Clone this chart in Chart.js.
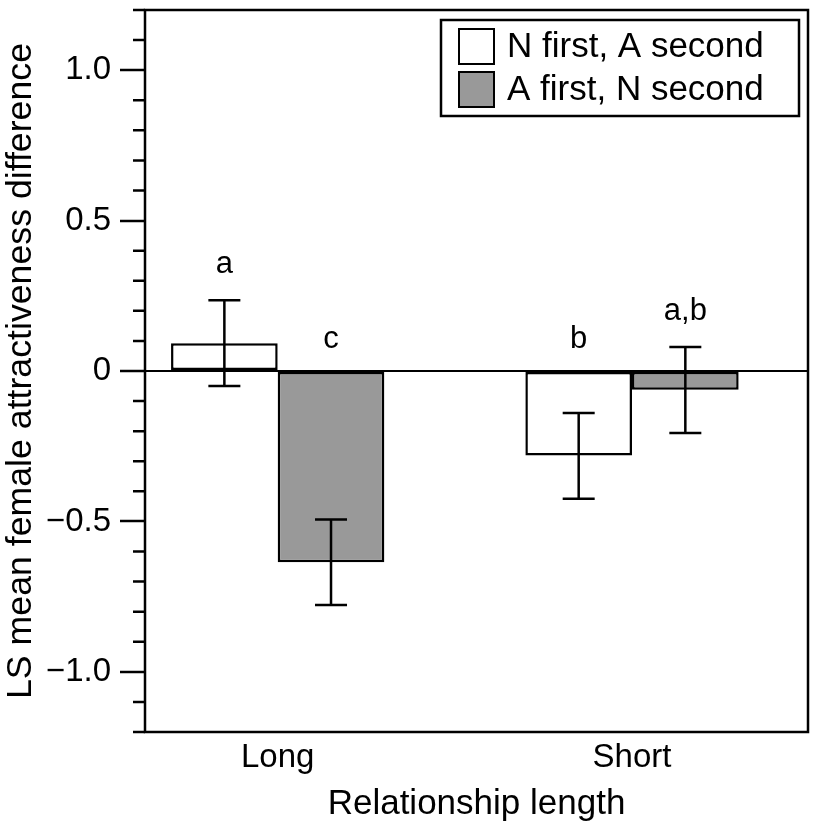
<!DOCTYPE html>
<html>
<head>
<meta charset="utf-8">
<script src="https://cdn.jsdelivr.net/npm/chart.js@4/dist/chart.umd.min.js"></script>
<style>
  html, body { margin: 0; padding: 0; background: #fff; }
  #wrap { width: 815px; height: 833px; }
</style>
</head>
<body>
<div id="wrap"><canvas id="bars"></canvas></div>
<script>
// values
const categories = ['Long', 'Short'];
const xPositions = [1, 2];

const nFirstLabel = 'N first, A second';
const nFirstMeans = [0.092, -0.281];
const nFirstLow = [-0.050, -0.425];
const nFirstHigh = [0.235, -0.140];
const nFirstLetters = ['a', 'b'];

const aFirstLabel = 'A first, N second';
const aFirstMeans = [-0.636, -0.062];
const aFirstLow = [-0.778, -0.206];
const aFirstHigh = [-0.494, 0.080];
const aFirstLetters = ['c', 'a,b'];

const yTickValues = [1.0, 0.5, 0, -0.5, -1.0];
const yTickLabels = ['1.0', '0.5', '0', '\u22120.5', '\u22121.0'];

const FONT = "'Liberation Sans', Arial, Helvetica, sans-serif";

function majorIndex(v) {
  for (let i = 0; i < yTickValues.length; i++) {
    if (Math.abs(yTickValues[i] - v) < 1e-6) return i;
  }
  return -1;
}

const errors = [
  {low: nFirstLow, high: nFirstHigh, letters: nFirstLetters},
  {low: aFirstLow, high: aFirstHigh, letters: aFirstLetters}
];

// error bars + significance letters
const errorBars = {
  id: 'errorBars',
  afterDatasetsDraw(chart) {
    const ctx = chart.ctx;
    const y = chart.scales.y;
    const zero = y.getPixelForValue(0);
    ctx.save();
    ctx.strokeStyle = '#000';
    ctx.lineWidth = 2.5;
    chart.data.datasets.forEach((ds, d) => {
      const meta = chart.getDatasetMeta(d);
      meta.data.forEach((bar, i) => {
        const lo = y.getPixelForValue(errors[d].low[i]);
        const hi = y.getPixelForValue(errors[d].high[i]);
        ctx.beginPath();
        ctx.moveTo(bar.x, lo); ctx.lineTo(bar.x, hi);
        ctx.moveTo(bar.x - 16, lo); ctx.lineTo(bar.x + 16, lo);
        ctx.moveTo(bar.x - 16, hi); ctx.lineTo(bar.x + 16, hi);
        ctx.stroke();
        ctx.fillStyle = '#000';
        ctx.font = '31px ' + FONT;
        ctx.textAlign = 'center';
        ctx.textBaseline = 'alphabetic';
        const ty = Math.min(zero - 23, hi - 27);
        ctx.fillText(errors[d].letters[i], bar.x, ty);
      });
    });
    ctx.restore();
  }
};

// frame, minor ticks, legend box
const frame = {
  id: 'frame',
  afterDraw(chart) {
    const ctx = chart.ctx;
    const a = chart.chartArea;
    const y = chart.scales.y;
    ctx.save();
    ctx.strokeStyle = '#000';
    ctx.lineWidth = 2.5;
    ctx.strokeRect(a.left, a.top, a.right - a.left, a.bottom - a.top);
    ctx.beginPath();
    y.ticks.forEach(t => {
      if (majorIndex(t.value) >= 0) return;
      const py = y.getPixelForValue(t.value);
      ctx.moveTo(a.left - 12, py);
      ctx.lineTo(a.left, py);
    });
    ctx.stroke();

    // legend
    const bx = a.right - 367, by = a.top + 10, bw = 358, bh = 96;
    ctx.fillStyle = '#fff';
    ctx.fillRect(bx, by, bw, bh);
    ctx.lineWidth = 2.5;
    ctx.strokeRect(bx, by, bw, bh);
    ctx.font = '35px ' + FONT;
    ctx.textAlign = 'left';
    ctx.textBaseline = 'middle';
    chart.data.datasets.forEach((ds, d) => {
      const sy = by + 9 + d * 43;
      ctx.fillStyle = ds.backgroundColor;
      ctx.fillRect(bx + 18, sy, 35, 35);
      ctx.lineWidth = 2;
      ctx.strokeRect(bx + 18, sy, 35, 35);
      ctx.fillStyle = '#000';
      ctx.fillText(ds.label, bx + 66, sy + 18);
    });
    ctx.restore();
  }
};

new Chart(document.getElementById('bars'), {
  type: 'bar',
  data: {
    datasets: [{
      label: nFirstLabel,
      data: xPositions.map((x, i) => ({x: x, y: nFirstMeans[i]})),
      backgroundColor: '#ffffff',
      borderColor: '#000',
      borderWidth: 2.5,
      borderSkipped: false
    }, {
      label: aFirstLabel,
      data: xPositions.map((x, i) => ({x: x, y: aFirstMeans[i]})),
      backgroundColor: '#999999',
      borderColor: '#000',
      borderWidth: 2.5,
      borderSkipped: false
    }]
  },
  options: {
    responsive: true,
    maintainAspectRatio: false,
    animation: false,
    categoryPercentage: 0.602,
    barPercentage: 1,
    layout: { padding: { top: 10, right: 7, left: 0, bottom: 0 } },
    plugins: {
      legend: { display: false },
      tooltip: { enabled: false }
    },
    scales: {
      x: {
        type: 'linear',
        min: 0.6255,
        max: 2.4967,
        offset: false,
        afterBuildTicks: (s) => { s.ticks = xPositions.map(v => ({value: v})); },
        afterFit: (s) => { s.height = 101; s.paddingLeft = 0; s.paddingRight = 0; },
        grid: { display: true, drawOnChartArea: false, drawTicks: false, offset: false },
        border: { display: false },
        ticks: {
          padding: 6,
          color: '#000',
          font: { family: FONT, size: 33 },
          callback: (v) => categories[xPositions.indexOf(v)] || ''
        },
        title: {
          display: true,
          text: 'Relationship length',
          color: '#000',
          font: { family: FONT, size: 35 },
          padding: { top: 0, bottom: 8 }
        }
      },
      y: {
        min: -1.2,
        max: 1.2,
        afterFit: (s) => { s.width = 145; s.paddingTop = 0; s.paddingBottom = 0; },
        grid: {
          drawOnChartArea: true,
          color: (c) => (c.tick && Math.abs(c.tick.value) < 1e-6) ? '#000' : 'rgba(0,0,0,0)',
          lineWidth: 2,
          tickColor: (c) => (c.tick && majorIndex(c.tick.value) >= 0) ? '#000' : 'rgba(0,0,0,0)',
          tickLength: 25,
          tickWidth: 2.5
        },
        border: { display: false },
        ticks: {
          stepSize: 0.1,
          autoSkip: false,
          padding: 9,
          color: '#000',
          font: { family: FONT, size: 33 },
          callback: (v) => { const k = majorIndex(v); return k >= 0 ? yTickLabels[k] : ''; }
        },
        title: {
          display: true,
          text: 'LS mean female attractiveness difference',
          color: '#000',
          font: { family: FONT, size: 35.7 },
          padding: 0
        }
      }
    }
  },
  plugins: [errorBars, frame]
});
</script>
</body>
</html>
